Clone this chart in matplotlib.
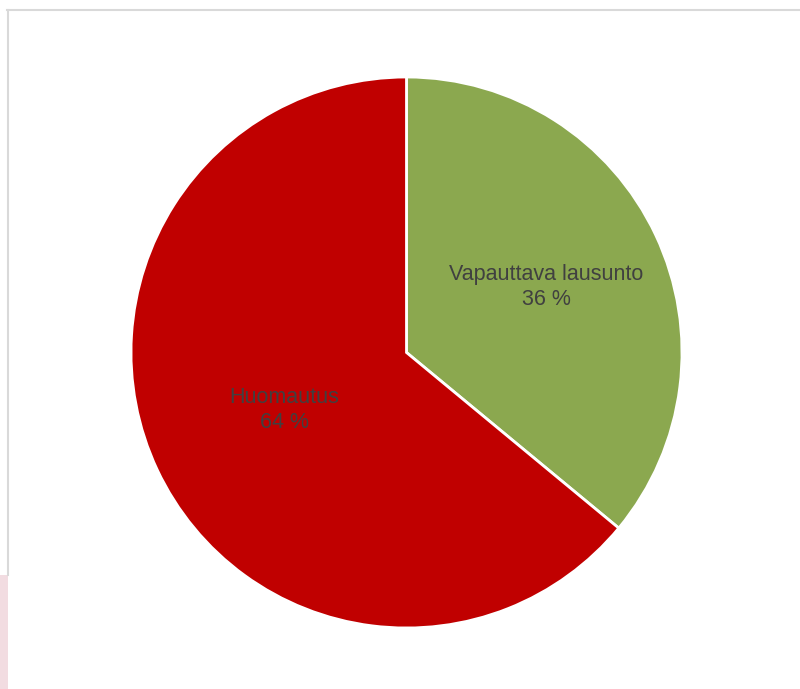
import numpy as np
import matplotlib.pyplot as plt
from matplotlib.lines import Line2D
from matplotlib.patches import Rectangle

# data
labels = ["Vapauttava lausunto", "Huomautus"]
values = [36, 64]
colors = ["#8BA84F", "#C00000"]
# how far from the centre each label sits (fraction of radius)
label_dist = [0.56, 0.49]

plt.rcParams['font.family'] = ['Liberation Sans', 'DejaVu Sans']

fig = plt.figure(figsize=(8, 6.89), dpi=100)
ax = fig.add_axes([131 / 800, 61 / 689, 551 / 800, 551 / 689])

lab_iter = iter(labels)


def fmt(pct):
    return "{}\n{:.0f} %".format(next(lab_iter), pct)


wedges, texts, autotexts = ax.pie(values, colors=colors, startangle=90, counterclock=False,
                                  autopct=fmt, pctdistance=0.53,
                                  wedgeprops=dict(edgecolor="white", linewidth=2),
                                  textprops=dict(color="#404040", fontsize=15.5))
for t, w, d in zip(autotexts, wedges, label_dist):
    ang = np.deg2rad((w.theta1 + w.theta2) / 2)
    t.set_position((d * np.cos(ang), d * np.sin(ang)))
    t.set_linespacing(1.25)
ax.set_xlim(-1, 1)
ax.set_ylim(-1, 1)
ax.set_aspect("equal")

# chart frame edges (top and left) and pink strip from the screenshot
fig.add_artist(Line2D([7 / 800, 1], [1 - 9.5 / 689, 1 - 9.5 / 689], color="#D9D9D9", lw=1.5))
fig.add_artist(Line2D([7.5 / 800, 7.5 / 800], [1 - 9.5 / 689, 1 - 575 / 689], color="#D9D9D9", lw=1.5))
fig.add_artist(Rectangle((0, 0), 8 / 800, 114 / 689, transform=fig.transFigure,
                         facecolor="#F2DCE1", edgecolor="none"))

fig.savefig("out.png", dpi=100, facecolor="white")
